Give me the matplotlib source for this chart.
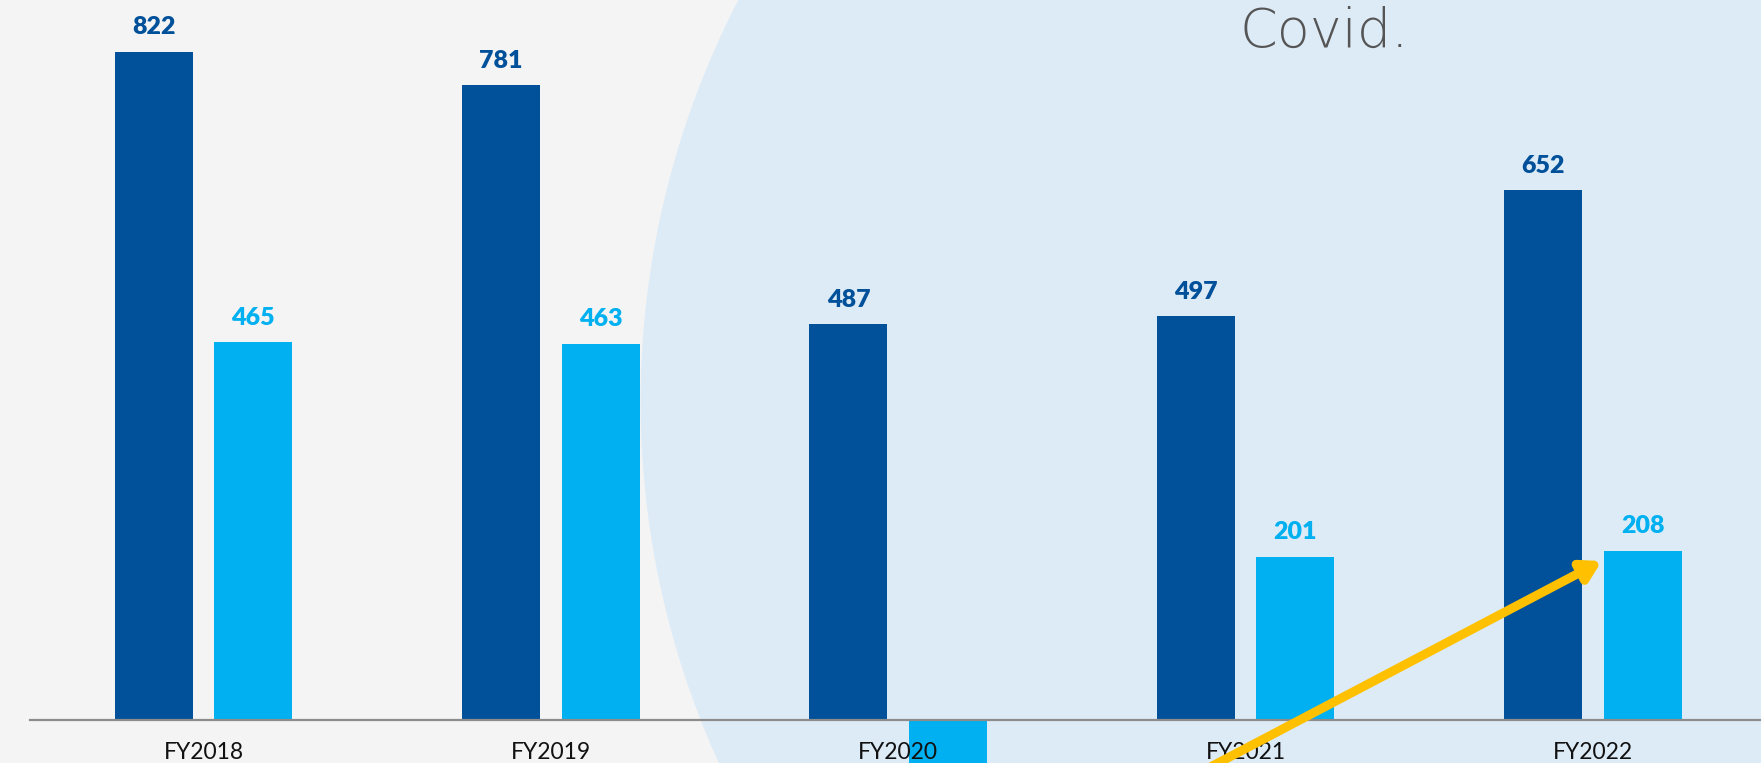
import numpy as np
import matplotlib.pyplot as plt
from matplotlib.patches import Ellipse

# Data
years = ['FY2018', 'FY2019', 'FY2020', 'FY2021', 'FY2022']
dark_vals = [822, 781, 487, 497, 652]
light_vals = [465, 463, -75, 201, 208]   # FY2020 light bar runs below the axis (cut off)

dark_col = '#00509a'
light_col = '#00b0f0'
W, H = 1761, 763

plt.rcParams['font.family'] = ['Lato', 'DejaVu Sans']

fig = plt.figure(figsize=(W / 100, H / 100), dpi=100)
fig.patch.set_facecolor('#f4f4f4')
ax = fig.add_axes([0, 0, 1, 1])
ax.set_facecolor('none')
ax.axis('off')

# axis mapping: baseline at 720px, 0.8125 px per unit, groups every 347.3px
ax.set_ylim(-(H - 720) / 0.8125, 720 / 0.8125)
ax.set_xlim(-203.6 / 347.3, (W - 203.6) / 347.3)

# big light-blue circle in the background
circ = Ellipse((1514.6 / W, 1 - 401.6 / H), 2 * 874 / W, 2 * 874 / H,
               transform=fig.transFigure, facecolor='#ddebf7', edgecolor='none', zorder=0)
ax.add_patch(circ)

x = np.arange(len(years))
bw = 0.2246
off = 0.1432
ax.bar(x - off, dark_vals, bw, color=dark_col, zorder=2)
ax.bar(x + off, light_vals, bw, color=light_col, zorder=2)

ax.axhline(0, xmin=30 / W, xmax=1, color='#8c8c8c', lw=1.6, zorder=3)

for xi, v in zip(x - off, dark_vals):
    ax.annotate(str(v), (xi, v), xytext=(0, 12.7), textcoords='offset points',
                ha='center', va='baseline', fontsize=18, fontweight='heavy', color=dark_col)
for xi, v in zip(x + off, light_vals):
    if v >= 0:
        ax.annotate(str(v), (xi, v), xytext=(0, 12.7), textcoords='offset points',
                    ha='center', va='baseline', fontsize=18, fontweight='heavy', color=light_col)
    else:
        ax.annotate(str(v), (xi, v), xytext=(0, -12.7), textcoords='offset points',
                    ha='center', va='top', fontsize=18, fontweight='heavy', color=light_col)

for xi, lab in zip(x, years):
    ax.annotate(lab, (xi, 0), xytext=(0, -15.5), textcoords='offset points',
                ha='center', va='top', fontsize=16.5, color='#111111', zorder=4)

fig.text(1240 / W, 1 - 47 / H, 'Covid.', ha='left', va='baseline',
         fontsize=39, fontweight='light', color='#555555',
         family=['DejaVu Sans'])

# yellow arrow rising towards FY2022
ax.annotate('', xy=(4.0256, 195.6), xytext=(2.719, -98.4),
            arrowprops=dict(arrowstyle='-|>,head_length=1.1,head_width=0.65',
                            color='#ffc000', lw=6.5, shrinkA=0, shrinkB=0),
            zorder=5)

fig.savefig('out.png', dpi=100, facecolor=fig.get_facecolor())
